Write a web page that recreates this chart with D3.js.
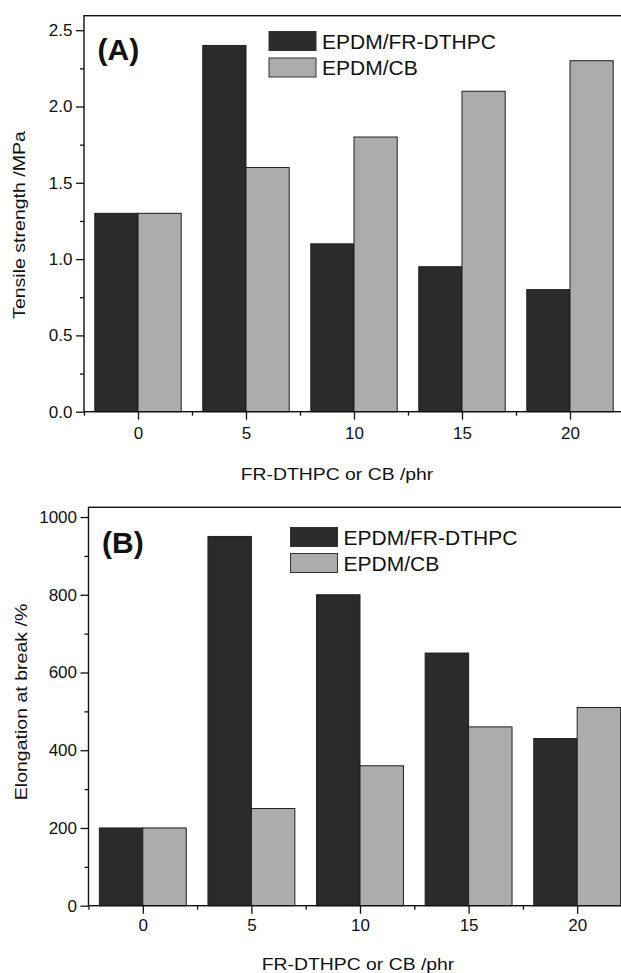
<!DOCTYPE html>
<html><head><meta charset="utf-8">
<script src="https://cdn.jsdelivr.net/npm/d3@7/dist/d3.min.js"></script>
<style>body{margin:0;background:#fff} svg{display:block}</style>
</head><body>
<script>
// ---- data ----
const categories = [0, 5, 10, 15, 20];
const seriesNames = ["EPDM/FR-DTHPC", "EPDM/CB"];
const tensileFR = [1.3, 2.4, 1.1, 0.95, 0.8];
const tensileCB = [1.3, 1.6, 1.8, 2.1, 2.3];
const elongFR = [200, 950, 800, 650, 430];
const elongCB = [200, 250, 360, 460, 510];
const tensileTicks = [0, 0.5, 1.0, 1.5, 2.0, 2.5];
const tensileMinor = [0.25, 0.75, 1.25, 1.75, 2.25];
const elongTicks = [0, 200, 400, 600, 800, 1000];
const elongMinor = [100, 300, 500, 700, 900];
const xMinor = [-2.5, 2.5, 7.5, 12.5, 17.5, 22.5];
const xTitle = "FR-DTHPC or CB /phr";

const W = 621, H = 973;
const FONT = "'Liberation Sans', Arial, sans-serif";
const colors = ["#2b2b2b", "#acacac"];
const barHalf = 2; // bar width in phr units

const svg = d3.select("body").append("svg").attr("width", W).attr("height", H);

function panel(c) {
  const g = svg.append("g");
  const x = d3.scaleLinear().domain([-2.5, 22.5]).range([c.left, c.right]);
  const y = d3.scaleLinear().domain([0, c.ymax]).range([c.bottom, c.top]);

  // bars
  const series = [c.fr, c.cb];
  series.forEach((vals, s) => {
    g.selectAll(null).data(categories).enter().append("rect")
      .attr("x", (d) => s === 0 ? x(d - barHalf) : x(d))
      .attr("width", x(barHalf) - x(0))
      .attr("y", (d, i) => y(vals[i]))
      .attr("height", (d, i) => y(0) - y(vals[i]))
      .attr("fill", colors[s])
      .attr("stroke", "#1e1e1e")
      .attr("stroke-width", 1);
  });

  // axes
  const yMaj = d3.axisLeft(y).tickValues(c.yticks).tickSize(8).tickPadding(3.5).tickSizeOuter(0).tickFormat(c.fmt);
  const yMin = d3.axisLeft(y).tickValues(c.yminor).tickSize(4).tickSizeOuter(0).tickFormat("");
  const xMaj = d3.axisBottom(x).tickValues(categories).tickSize(8).tickPadding(c.xpad).tickSizeOuter(0).tickFormat(d3.format("d"));
  const xMin = d3.axisBottom(x).tickValues(xMinor).tickSize(4).tickSizeOuter(0).tickFormat("");

  [[yMaj, `translate(${c.left},0)`], [yMin, `translate(${c.left},0)`],
   [xMaj, `translate(0,${c.bottom})`], [xMin, `translate(0,${c.bottom})`]].forEach(([ax, tr]) => {
    const a = g.append("g").attr("transform", tr).call(ax);
    a.select(".domain").remove();
    a.selectAll("line").attr("stroke", "#111").attr("stroke-width", 1.3);
    a.selectAll("text").attr("font-family", FONT).attr("font-size", 17).attr("fill", "#111");
  });

  // frame
  g.append("rect").attr("x", c.left).attr("y", c.top)
    .attr("width", c.right - c.left).attr("height", c.bottom - c.top)
    .attr("fill", "none").attr("stroke", "#111").attr("stroke-width", 1.4);

  // panel label
  g.append("text").attr("x", c.left + 13.5).attr("y", c.labelY)
    .attr("font-family", FONT).attr("font-weight", "bold").attr("font-size", 30)
    .attr("fill", "#111").text(c.label);

  // legend
  seriesNames.forEach((name, s) => {
    g.append("rect").attr("x", c.legX).attr("y", c.legY[s])
      .attr("width", 47).attr("height", 19)
      .attr("fill", colors[s]).attr("stroke", "#333").attr("stroke-width", 1);
    g.append("text").attr("x", c.legX + 53).attr("y", c.legY[s] + 17)
      .attr("font-family", FONT).attr("font-size", 21).attr("fill", "#111").text(name);
  });

  // axis titles
  g.append("text")
    .attr("transform", `translate(${c.yTitleX},${c.yTitleY}) rotate(-90) scale(1.15,1)`)
    .attr("text-anchor", "middle").attr("font-family", FONT).attr("font-size", 17)
    .attr("fill", "#111").text(c.ytitle);
  g.append("text")
    .attr("transform", `translate(${c.xTitleX},${c.xTitleY}) scale(1.14,1)`)
    .attr("text-anchor", "middle").attr("font-family", FONT).attr("font-size", 17)
    .attr("fill", "#111").text(xTitle);
}

panel({
  left: 84, right: 624, top: 15.7, bottom: 411.7, ymax: 2.595,
  yticks: tensileTicks, yminor: tensileMinor, fmt: d3.format(".1f"), xpad: 7,
  fr: tensileFR, cb: tensileCB, label: "(A)", labelY: 60,
  legX: 269, legY: [31.5, 58],
  ytitle: "Tensile strength /MPa", yTitleX: 25, yTitleY: 225,
  xTitleX: 337, xTitleY: 480
});

panel({
  left: 88.5, right: 631.5, top: 507.3, bottom: 905.7, ymax: 1025,
  yticks: elongTicks, yminor: elongMinor, fmt: d3.format("d"), xpad: 5,
  fr: elongFR, cb: elongCB, label: "(B)", labelY: 552.5,
  legX: 290.5, legY: [527.5, 553.5],
  ytitle: "Elongation at  break /%", yTitleX: 26.5, yTitleY: 702,
  xTitleX: 358, xTitleY: 970
});
</script>
</body></html>
